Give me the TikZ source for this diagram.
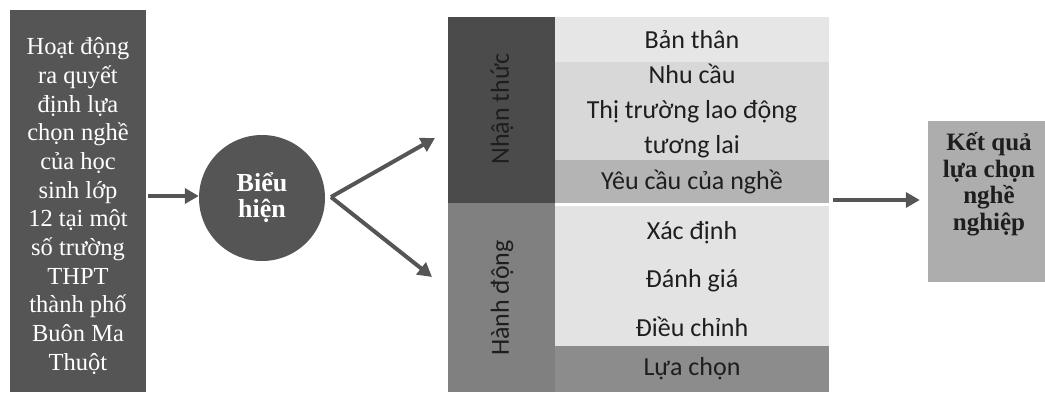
\documentclass[tikz,border=0pt]{standalone}
\usepackage{fontspec}
\setmainfont{Liberation Serif}
\newfontfamily\calfont{Carlito}
\usetikzlibrary{arrows.meta}
\definecolor{cdark}{HTML}{555555}
\definecolor{cnt}{HTML}{4B4B4B}
\definecolor{chd}{HTML}{808080}
\definecolor{cbt}{HTML}{E6E6E6}
\definecolor{cnc}{HTML}{D8D8D8}
\definecolor{cyc}{HTML}{B4B4B4}
\definecolor{cxd}{HTML}{E3E3E3}
\definecolor{clc}{HTML}{8C8C8C}
\definecolor{cres}{HTML}{ADADAD}
\definecolor{ctxt}{HTML}{1E1E1E}
\begin{document}
\begin{tikzpicture}[x=1pt,y=-1pt,
  cell/.style={rectangle,inner sep=0pt,minimum width=274pt,font=\calfont\fontsize{26}{35}\selectfont,text=ctxt,align=center},
  side/.style={rectangle,inner sep=0pt,minimum width=107pt},
  vtext/.style={rotate=90,font=\calfont\fontsize{26}{30}\selectfont,text=ctxt},
  arr/.style={draw=cdark,line width=4pt,-{Triangle[length=14pt,width=15pt]}}]
\useasboundingbox (0,0) rectangle (1045,394);
% left box
\node[rectangle,fill=cdark,minimum width=136pt,minimum height=382pt,inner sep=0pt] (left) at (78,201) {};
\node[text=white,align=center,inner sep=0pt,font=\fontsize{24.5}{28.7}\selectfont] (leftt) at (78,206)
  {Hoạt động\\ra quyết\\định lựa\\chọn nghề\\của học\\sinh lớp\\12 tại một\\số trường\\THPT\\thành phố\\Buôn Ma\\Thuột};
% circle
\node[circle,fill=cdark,minimum size=126pt,inner sep=0pt,text=white,align=center,
  font=\bfseries\fontsize{26}{26}\selectfont] (circ) at (262,198) {Biểu\\hiện};
% table
\node[side,fill=cnt,minimum height=186pt] (nt) at (501.5,110) {};
\node[vtext] (ntt) at (502,109) {Nhận thức};
\node[side,fill=chd,minimum height=189pt] (hd) at (501.5,297.5) {};
\node[vtext] (hdt) at (502,298) {Hành động};
\node[cell,fill=cbt,minimum height=45pt] (bt) at (692,39.5) {Bản thân};
\node[cell,fill=cnc,minimum height=98pt] (nc) at (692,111) {Nhu cầu\\Thị trường lao động\\tương lai};
\node[cell,fill=cyc,minimum height=43pt] (yc) at (692,181.5) {Yêu cầu của nghề};
\node[cell,fill=cxd,minimum height=147pt,font=\calfont\fontsize{26}{48.5}\selectfont] (xd) at (692,279) {Xác định\\Đánh giá\\Điều chỉnh};
\node[cell,fill=clc,minimum height=46pt] (lc) at (692,369) {Lựa chọn};
% result
\node[rectangle,fill=cres,minimum width=117pt,minimum height=161pt,inner sep=0pt] (res) at (986.5,201.5) {};
\node[align=center,text=ctxt,inner sep=0pt,font=\bfseries\fontsize{25}{26.5}\selectfont] (rest) at (989,184) {Kết quả\\lựa chọn\\nghề\\nghiệp};
% arrows
\coordinate (c0) at (331,197);
\coordinate (u) at (435,138);
\coordinate (d) at (432,277);
\draw[arr,shorten <=2pt] (left.east |- 0,196) -- (circ.west |- 0,196);
\draw[arr] (c0) -- (u);
\draw[arr] (c0) -- (d);
\draw[arr,shorten <=4pt,shorten >=8pt] (yc.east |- 0,200) -- (res.west |- 0,200);
\end{tikzpicture}
\end{document}
